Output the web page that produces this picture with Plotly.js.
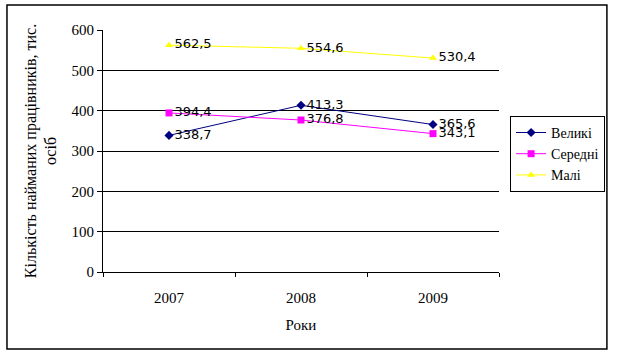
<!DOCTYPE html>
<html>
<head>
<meta charset="utf-8">
<script src="https://cdn.plot.ly/plotly-3.0.1.min.js"></script>
<style>
html,body{margin:0;padding:0;background:#fff;}
#chart{width:617px;height:354px;}
</style>
</head>
<body>
<div id="chart"></div>
<script>
var years = ["2007", "2008", "2009"];
var seriesNames = ["Великі", "Середні", "Малі"];
var velyki = [338.7, 413.3, 365.6];
var seredni = [394.4, 376.8, 343.1];
var mali = [562.5, 554.6, 530.4];
var yTicks = [0, 100, 200, 300, 400, 500, 600];

function fmt(v){ return v.toFixed(1).replace('.', ','); }

var SERIF = "'Liberation Serif', 'Times New Roman', 'DejaVu Serif', serif";
var colors = ["#000080", "#FF00FF", "#FFFF00"];
var symbols = ["diamond", "square", "triangle-up"];
var data = [velyki, seredni, mali];

var traces = data.map(function(vals, i){
  return {
    x: years, y: vals, name: seriesNames[i],
    type: "scatter", mode: "lines+markers+text",
    line: {color: colors[i], width: 1},
    marker: {color: colors[i], symbol: symbols[i], size: 7},
    text: vals.map(fmt),
    textposition: "middle right",
    textfont: {family: "'DejaVu Sans', sans-serif", size: 13, color: "#000"},
    cliponaxis: false
  };
});

var layout = {
  width: 617, height: 354,
  margin: {l: 103, r: 114, t: 30, b: 82},
  paper_bgcolor: "#fff", plot_bgcolor: "#fff",
  font: {family: SERIF, size: 15, color: "#000"},
  showlegend: true,
  legend: {x: 1.028, y: 0.645, xanchor: "left", yanchor: "top",
    bordercolor: "#000", borderwidth: 1, bgcolor: "#fff",
    font: {family: SERIF, size: 14, color: "#000"},
    tracegroupgap: 0, itemwidth: 30},
  xaxis: {
    type: "category", range: [-0.5, 2.5],
    tickson: "boundaries", ticks: "outside", ticklen: 4, tickcolor: "#000",
    ticklabelstandoff: 12,
    showline: true, linecolor: "#000", linewidth: 1,
    showgrid: false, zeroline: false,
    tickfont: {family: SERIF, size: 15},
    title: {text: "Роки", font: {family: SERIF, size: 15}, standoff: 14}
  },
  yaxis: {
    range: [0, 600], tickvals: yTicks,
    ticks: "outside", ticklen: 5, tickcolor: "#000",
    showline: true, linecolor: "#000", linewidth: 1,
    showgrid: true, gridcolor: "#000", gridwidth: 1, zeroline: false,
    tickfont: {family: SERIF, size: 15},
    title: {text: "Кількість найманих працівників, тис.<br>осіб", font: {family: SERIF, size: 16}, standoff: 10}
  },
  shapes: [{
    type: "rect", xref: "paper", yref: "paper",
    x0: (6 - 103) / 400, x1: (612 - 103) / 400,
    y0: (272 - 349) / 242, y1: (272 - 5) / 242,
    line: {color: "#000", width: 1.5}, fillcolor: "rgba(0,0,0,0)"
  }]
};

Plotly.newPlot("chart", traces, layout, {displayModeBar: false, staticPlot: true});
</script>
</body>
</html>
